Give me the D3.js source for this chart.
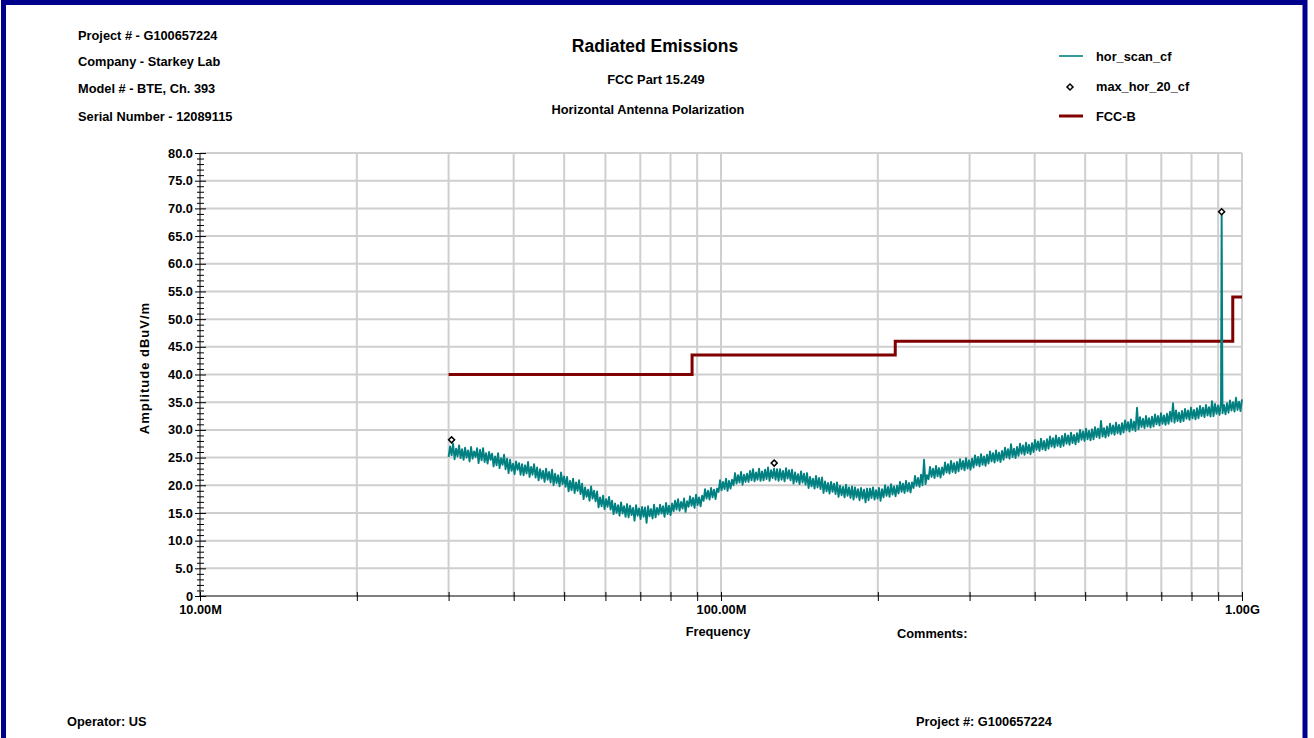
<!DOCTYPE html>
<html><head><meta charset="utf-8">
<script src="https://cdn.jsdelivr.net/npm/d3@7"></script>
<style>
body{margin:0;background:#fff}
text{font-family:"Liberation Sans",Arial,sans-serif;font-weight:bold;fill:#000}
</style>
</head><body>
<svg id="c" width="1314" height="738"></svg>
<script>
// ---- data ----
const scanStartMHz = 30, scanStopMHz = 1000;
const scanValues = [
  25.1,27.0,25.4,27.5,24.7,26.6,25.2,27.2,24.9,26.5,
  24.6,26.8,25.0,26.3,24.3,26.9,24.8,26.1,25.1,26.7,
  24.0,26.4,24.5,26.7,24.2,25.8,23.9,26.0,24.6,25.7,
  23.4,25.2,23.6,25.8,23.1,24.9,23.7,25.5,22.9,24.8,
  22.2,24.6,22.6,23.9,22.0,24.3,22.8,24.0,21.9,23.8,
  21.8,23.6,22.1,24.2,21.5,23.3,21.9,23.8,21.4,23.2,
  20.9,22.9,21.2,22.6,20.6,23.0,21.0,22.4,20.5,22.8,
  20.0,22.1,20.4,21.8,19.8,22.3,20.2,21.6,19.7,21.5,
  18.9,20.8,19.1,21.2,18.6,20.5,19.0,20.9,18.4,20.3,
  17.5,19.6,17.9,19.2,17.2,19.8,17.6,19.0,17.1,18.9,
  16.0,17.8,16.2,18.1,15.7,17.5,16.1,17.9,15.6,17.2,
  14.8,16.7,15.0,16.4,14.5,16.9,14.9,16.2,14.3,16.6,
  14.2,16.3,14.6,15.9,13.6,16.4,14.5,15.8,13.9,16.1,
  14.3,16.0,13.2,16.2,14.4,15.7,14.0,16.5,14.2,15.9,
  14.7,16.5,14.9,16.2,14.3,16.8,14.8,16.3,14.6,16.7,
  15.3,17.2,15.6,17.5,15.4,17.0,15.8,17.6,15.2,17.1,
  16.1,18.0,16.3,17.7,15.9,18.3,16.4,17.8,16.2,18.1,
  17.2,19.3,17.6,19.0,17.4,19.5,17.8,19.2,17.5,19.4,
  18.8,20.9,19.1,20.6,19.3,21.2,19.0,20.8,19.4,21.0,
  20.0,22.2,20.3,21.8,20.5,22.4,20.1,21.9,20.6,22.1,
  20.6,22.6,20.9,22.9,20.7,22.3,21.0,23.0,20.8,22.5,
  20.9,22.8,21.1,23.2,20.8,22.7,21.3,23.0,21.0,22.9,
  20.8,22.9,21.0,22.6,20.7,23.1,21.2,22.7,20.9,22.8,
  20.3,22.3,20.6,22.0,20.2,22.5,20.5,22.1,20.1,22.2,
  19.5,21.5,19.8,21.2,19.4,21.7,19.6,21.3,19.3,21.4,
  18.6,20.7,18.9,20.4,18.5,20.6,18.8,20.3,18.4,20.5,
  17.9,19.9,18.2,19.7,17.8,20.1,18.1,19.6,17.7,19.8,
  17.4,19.6,17.8,19.3,17.3,19.5,17.6,19.2,16.9,19.4,
  17.3,19.4,17.7,19.6,17.4,19.1,17.6,19.5,17.2,19.3,
  17.8,20.0,18.1,19.7,17.9,20.2,18.3,19.8,18.0,19.9,
  18.5,20.6,18.8,20.3,18.6,20.8,18.9,20.4,18.7,20.5,
  19.5,21.7,19.9,21.3,19.7,21.9,20.0,24.6,20.2,21.8,
  21.1,23.3,21.5,23.0,21.3,23.5,21.6,23.1,21.4,23.2,
  21.9,24.1,22.3,23.8,22.1,24.4,22.4,24.0,22.2,24.2,
  22.5,24.7,22.9,24.4,22.7,24.9,23.0,24.5,22.8,24.8,
  23.2,25.4,23.6,25.1,23.4,25.6,23.7,25.2,23.5,25.5,
  23.9,26.1,24.3,25.8,24.1,26.3,24.4,25.9,24.2,26.2,
  24.6,26.8,25.0,26.5,24.8,27.4,25.1,26.6,24.9,26.9,
  25.3,27.5,25.7,27.2,25.5,27.7,25.8,27.3,25.6,27.6,
  26.0,28.2,26.4,27.9,26.2,28.4,26.5,28.0,26.3,28.3,
  26.6,28.8,27.0,28.5,26.8,29.0,27.1,28.6,26.9,28.9,
  27.1,29.3,27.5,29.0,27.3,29.5,27.6,29.1,27.4,29.4,
  27.8,30.0,28.2,29.7,28.0,30.2,28.3,29.8,28.1,30.1,
  28.3,30.5,28.7,30.2,28.5,31.6,28.8,30.3,28.6,30.6,
  28.9,31.1,29.3,30.8,29.1,31.3,29.4,30.9,29.2,31.2,
  29.5,31.7,29.9,31.4,29.7,31.9,30.0,31.5,29.8,34.0,
  30.1,32.3,30.5,32.0,30.3,32.5,30.6,32.1,30.4,32.4,
  30.6,32.8,31.0,32.5,30.8,33.0,31.1,32.6,30.9,32.9,
  31.1,33.3,31.5,34.8,31.3,33.5,31.6,33.1,31.4,33.4,
  31.6,33.8,32.0,33.5,31.8,34.0,32.1,33.6,31.9,33.9,
  32.1,34.3,32.5,34.0,32.3,34.5,32.6,34.1,32.4,35.2,
  32.5,34.7,32.9,34.4,32.7,34.9,33.0,34.5,32.8,34.8,
  33.1,35.3,33.5,35.0,33.3,35.8,33.6,35.1,33.4,35.5
];
const spikeFreqMHz = 914, spikeValue = 69.2;
const peakFreqs = [30.4, 126.5, 914];
const peakValues = [28.2, 24.0, 69.4];
const limitEdges = [30, 88, 216, 960, 1000];
const limitValues = [40.0, 43.5, 46.0, 54.0];
const yTicks = [0,5,10,15,20,25,30,35,40,45,50,55,60,65,70,75,80];
const xTicks = [10,20,30,40,50,60,70,80,90,100,200,300,400,500,600,700,800,900,1000];
const xTickLabels = {10:"10.00M",100:"100.00M",1000:"1.00G"};
const infoLines = ["Project # - G100657224","Company - Starkey Lab","Model # - BTE, Ch. 393","Serial Number - 12089115"];
const titleLines = ["Radiated Emissions","FCC Part 15.249","Horizontal Antenna Polarization"];
const legendNames = ["hor_scan_cf","max_hor_20_cf","FCC-B"];

// ---- drawing ----
const svg = d3.select("#c");
const traceColor = "#008080", limitColor = "#800000", gridColor = "#cfcfcf";
const fs = 12.8;
svg.append("rect").attr("width",1314).attr("height",738).attr("fill","#fff");
svg.append("rect").attr("x",3.5).attr("y",2.5).attr("width",1301.5).attr("height",800)
  .attr("fill","none").attr("stroke","#00008c").attr("stroke-width",5);

const x = d3.scaleLog().domain([10,1000]).range([200,1242]);
const y = d3.scaleLinear().domain([0,80]).range([596,153]);

// grid
svg.append("g").selectAll("line").data(xTicks.filter(d=>d>10)).join("line")
  .attr("x1",d=>x(d)).attr("x2",d=>x(d)).attr("y1",y(80)).attr("y2",y(0))
  .attr("stroke",gridColor).attr("stroke-width",2);
svg.append("g").selectAll("line").data(yTicks.filter(d=>d>0)).join("line")
  .attr("x1",x(10)).attr("x2",x(1000)).attr("y1",d=>y(d)).attr("y2",d=>y(d))
  .attr("stroke",gridColor).attr("stroke-width",2);

// y axis
const minorY = d3.range(0,81).filter(d=>d%5!==0);
const gyMinor = svg.append("g").attr("transform",`translate(${x(10)},0)`)
  .call(d3.axisLeft(y).tickValues(minorY).tickSize(3).tickFormat(""));
gyMinor.select(".domain").remove();
gyMinor.selectAll(".tick line").attr("x1",4).attr("stroke","#000");
const gy = svg.append("g").attr("transform",`translate(${x(10)},0)`)
  .call(d3.axisLeft(y).tickValues(yTicks).tickSize(5).tickPadding(2)
    .tickFormat(d=>d===0?"0":d.toFixed(1)));
gy.select(".domain").attr("stroke","#000").attr("d",`M0,${y(80)}V${y(0)}`);
gy.selectAll(".tick line").attr("x1",6).attr("stroke","#000");
gy.selectAll("text").attr("font-size",fs).attr("font-family","Liberation Sans, Arial").attr("font-weight","bold").attr("fill","#000");

// x axis
const gx = svg.append("g").attr("transform",`translate(0,${y(0)})`)
  .call(d3.axisBottom(x).tickValues(xTicks).tickSize(5).tickPadding(4)
    .tickFormat(d=>xTickLabels[d]||""));
gx.select(".domain").attr("stroke","#000").attr("d",`M${x(10)},0H${x(1000)}`);
gx.selectAll(".tick line").attr("y1",-4).attr("stroke","#000");
gx.selectAll("text").attr("font-size",fs).attr("font-family","Liberation Sans, Arial").attr("font-weight","bold").attr("fill","#000");

// limit line
const limitPts = [];
limitValues.forEach((v,i)=>{limitPts.push([limitEdges[i],v]);limitPts.push([limitEdges[i+1],v]);});
svg.append("path").datum(limitPts)
  .attr("d",d3.line().x(d=>x(d[0])).y(d=>y(d[1])))
  .attr("fill","none").attr("stroke",limitColor).attr("stroke-width",3);

// trace
const n = scanValues.length;
const trace = scanValues.map((v,i)=>[scanStartMHz*Math.pow(scanStopMHz/scanStartMHz,i/(n-1)),v]);
trace.push([spikeFreqMHz,spikeValue]);
trace.sort((a,b)=>a[0]-b[0]);
svg.append("path").datum(trace)
  .attr("d",d3.line().x(d=>x(d[0])).y(d=>y(d[1])))
  .attr("fill","none").attr("stroke",traceColor).attr("stroke-width",1.9).attr("stroke-linejoin","round");

// peak markers (small rotated squares)
const marker = d3.symbol().type(d3.symbolSquare).size(18);
svg.append("g").selectAll("path").data(peakFreqs).join("path")
  .attr("transform",(d,i)=>`translate(${x(d)},${y(peakValues[i])}) rotate(45)`)
  .attr("d",marker).attr("fill","#fff").attr("stroke","#000").attr("stroke-width",1.5);

// header text
svg.append("g").selectAll("text").data(infoLines).join("text")
  .attr("x",78).attr("y",(d,i)=>[40,66,93,121][i]).attr("font-size",fs).text(d=>d);
svg.append("g").selectAll("text").data(titleLines).join("text")
  .attr("x",(d,i)=>[655,656,648][i]).attr("y",(d,i)=>[52,84,114][i])
  .attr("text-anchor","middle").attr("font-size",(d,i)=>i===0?17.5:fs).text(d=>d);

// legend
const lg = svg.append("g");
lg.append("line").attr("x1",1059).attr("x2",1083).attr("y1",56).attr("y2",56).attr("stroke",traceColor).attr("stroke-width",1.6);
lg.append("path").attr("transform","translate(1070,87) rotate(45)").attr("d",marker).attr("fill","#fff").attr("stroke","#000").attr("stroke-width",1.5);
lg.append("line").attr("x1",1059).attr("x2",1083).attr("y1",116).attr("y2",116).attr("stroke",limitColor).attr("stroke-width",3);
lg.selectAll("text").data(legendNames).join("text")
  .attr("x",1096).attr("y",(d,i)=>[61,91,121][i]).attr("font-size",fs).text(d=>d);

// axis titles
svg.append("text").attr("transform","translate(149,368) rotate(-90)").attr("text-anchor","middle")
  .attr("font-size",13).attr("letter-spacing",1).text("Amplitude dBuV/m");
svg.append("text").attr("x",718).attr("y",636).attr("text-anchor","middle").attr("font-size",fs).text("Frequency");
svg.append("text").attr("x",897).attr("y",638).attr("font-size",fs).text("Comments:");
svg.append("text").attr("x",67).attr("y",726).attr("font-size",fs).text("Operator: US");
svg.append("text").attr("x",916).attr("y",726).attr("font-size",fs).text("Project #: G100657224");
</script>
</body></html>
